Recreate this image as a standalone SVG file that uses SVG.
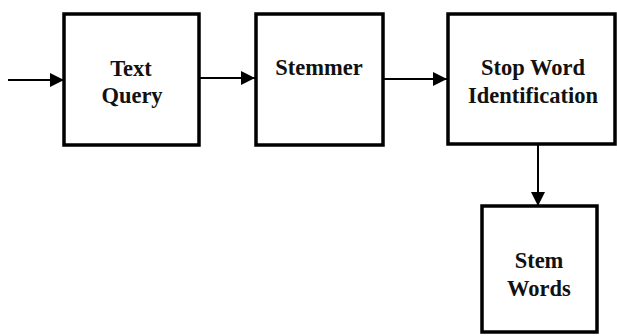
<svg xmlns="http://www.w3.org/2000/svg" width="617" height="336" viewBox="0 0 617 336">
  <style>
    .box { fill: #ffffff; stroke: #000000; stroke-width: 3.5; }
    .lbl { font-family: "Liberation Serif", "Times New Roman", serif; font-weight: bold; font-size: 22.5px; fill: #111111; text-anchor: middle; }
    .wire { fill: none; stroke: #000000; stroke-width: 2; }
  </style>
  <defs>
    <marker id="arrow" viewBox="0 0 14 14" refX="14" refY="7" markerWidth="14" markerHeight="14" markerUnits="userSpaceOnUse" orient="auto">
      <path d="M0,0 L14,7 L0,14 Z" fill="#000000"/>
    </marker>
  </defs>
  <rect width="617" height="336" fill="#ffffff"/>

  <g id="connectors">
    <line class="wire" x1="8" y1="80" x2="64" y2="80" stroke="#444444" stroke-width="2.5" marker-end="url(#arrow)"/>
    <line class="wire" x1="199" y1="78" x2="255" y2="78" marker-end="url(#arrow)"/>
    <line class="wire" x1="383" y1="79" x2="447" y2="79" marker-end="url(#arrow)"/>
    <line class="wire" x1="538" y1="145" x2="538" y2="206" marker-end="url(#arrow)"/>
  </g>

  <g id="text-query">
    <rect class="box" x="64" y="14" width="135" height="131"/>
    <text class="lbl" x="131" y="76">Text</text>
    <text class="lbl" x="132" y="103">Query</text>
  </g>

  <g id="stemmer">
    <rect class="box" x="256" y="14" width="127" height="131"/>
    <text class="lbl" x="319" y="75">Stemmer</text>
  </g>

  <g id="stop-word-identification">
    <rect class="box" x="448" y="14" width="167" height="130"/>
    <text class="lbl" x="533" y="75">Stop Word</text>
    <text class="lbl" x="533" y="103">Identification</text>
  </g>

  <g id="stem-words">
    <rect class="box" x="482" y="206" width="115" height="126"/>
    <text class="lbl" x="539" y="268">Stem</text>
    <text class="lbl" x="539" y="296">Words</text>
  </g>
</svg>
